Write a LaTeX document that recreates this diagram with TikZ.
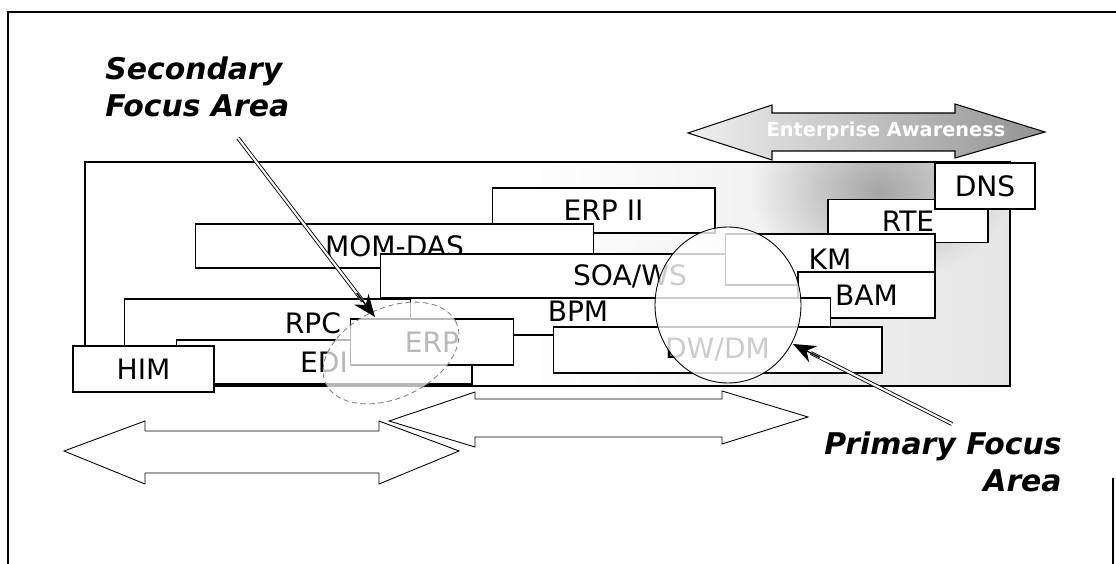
\documentclass[tikz,border=0pt]{standalone}
\usepackage{fontspec}
\setmainfont{DejaVu Sans}
\usetikzlibrary{arrows.meta,calc,fadings,shapes.geometric}
\pgfdeclarehorizontalshading{fieldshade}{100bp}{color(0bp)=(white); color(48bp)=(white); color(80bp)=(gray!24); color(100bp)=(gray!34)}
\tikzfading[name=blobfade, inner color=transparent!15, outer color=transparent!100]

\begin{document}
\begin{tikzpicture}[
  x=0.02cm, y=-0.02cm,
  box/.style={draw, fill=white, line width=0.6pt, inner sep=0pt, font=\fontsize{16}{18}\selectfont},
  lbl/.style={inner sep=0pt, font=\fontsize{16}{18}\selectfont},
  focus/.style={inner sep=0pt, font=\fontsize{17}{21}\selectfont\bfseries\itshape},
  blockarrow/.style={draw, line width=0.5pt},
  pointer/.style={draw=black, double=white, double distance=1.2pt, line width=0.5pt, shorten >=4mm},
  tip/.style={line width=0.8pt, -{Stealth[length=4.5mm, width=3.6mm, fill=black]}},
  area/.style={draw, ellipse, inner sep=0pt, line width=0.5pt, fill=white},
]
  \useasboundingbox (0,0) rectangle (1116,564);

  % frame
  \draw[line width=0.8pt] (1116,12) -- (8,12) -- (8,564);
  \draw[line width=0.8pt] (1113,478) -- (1113,564);

  % background field
  \shade[shading=fieldshade] (85,162) rectangle (1010,386);
  \begin{scope}
    \clip (85,162) rectangle (1010,386);
    \fill[gray!80, path fading=blobfade] (880,190) ellipse [x radius=130, y radius=90];
  \end{scope}
  \draw[line width=0.6pt] (85,162) rectangle (1010,386);

  % block arrows
  \draw[line width=0.6pt, left color=gray!12, right color=gray!85]
    (688,133) -- (772,105) -- (772,113) -- (955,113) -- (955,104) -- (1045,132)
    -- (955,158) -- (955,151) -- (772,151) -- (772,160) -- cycle;
  \node[inner sep=0pt, font=\fontsize{11}{13}\selectfont\bfseries, text=white] (aware) at (886,131) {Enterprise Awareness};
  \draw[blockarrow] (64,451) -- (145,421) -- (145,431) -- (379,431) -- (379,421) -- (459,451)
    -- (379,484) -- (379,473) -- (145,473) -- (145,484) -- cycle;
  \draw[blockarrow] (389,421) -- (475,392) -- (475,399) -- (722,399) -- (722,391) -- (808,417)
    -- (722,444) -- (722,437) -- (475,437) -- (475,447) -- cycle;

  % technology boxes
  \node[box, minimum width=4.46cm, minimum height=0.9cm] (erptwo) at (603.5,210.5) {ERP II};
  \node[box, minimum width=7.98cm, minimum height=0.88cm] (momdas) at (394.5,246) {MOM-DAS};
  \node[box, minimum width=3.2cm, minimum height=0.86cm] (rte) at (908,221) {RTE};
  \node[box, minimum width=2cm, minimum height=0.92cm] (dns) at (985,186) {DNS};
  \node[box, minimum width=10cm, minimum height=0.88cm] (soaws) at (630,276) {SOA/WS};
  \node[box, minimum width=4.2cm, minimum height=1.02cm] (km) at (830,259.5) {KM};
  \node[box, minimum width=2.74cm, minimum height=0.92cm] (bam) at (866.5,295) {BAM};
  \node[box, minimum width=7.56cm, minimum height=0.96cm] (rpc) at (313,323) {RPC};
  \node[box, minimum width=8.42cm, minimum height=0.74cm] (bpm) at (620.5,316.5) {};
  \node[lbl] (bpmtext) at (578,311) {BPM};
  \node[box, minimum width=6.58cm, minimum height=0.92cm] (dwdm) at (717.5,350) {DW/DM};
  \node[box, minimum width=5.92cm, minimum height=0.88cm] (edi) at (324,362) {EDI};
  \node[box, minimum width=2.82cm, minimum height=0.92cm] (him) at (143.5,369) {HIM};
  \node[box, minimum width=3.26cm, minimum height=0.92cm] (erp) at (432,342) {ERP};

  % focus areas
  \node[area, densely dashed, draw=gray, fill opacity=0.72, rotate=25, minimum width=2.88cm, minimum height=1.8cm] (secarea) at (391,353) {};
  \node[area, fill opacity=0.8, minimum width=2.92cm, minimum height=3.12cm] (priarea) at (728,305) {};

  % pointers
  \coordinate (sectail) at (238,138);
  \coordinate (sectip) at (375,317);
  \coordinate (pritail) at (952,424);
  \coordinate (pritip) at (793,344);
  \draw[pointer] (sectail) -- (sectip);
  \draw[tip] ($(sectip)!6mm!(sectail)$) -- (sectip);
  \draw[pointer] (pritail) -- (pritip);
  \draw[tip] ($(pritip)!6mm!(pritail)$) -- (pritip);

  \node[focus, align=left, anchor=west] (seclabel) at (105,87) {Secondary\\Focus Area};
  \node[focus, align=right, anchor=east] (prilabel) at (1062,462) {Primary Focus\\Area};
\end{tikzpicture}
\end{document}
